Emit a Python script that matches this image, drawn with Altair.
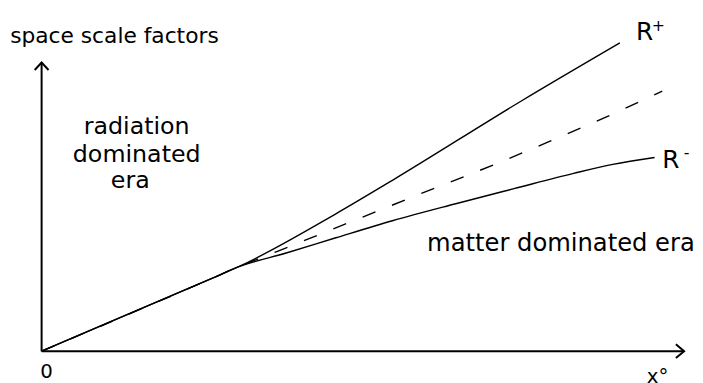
import altair as alt
import pandas as pd

# ---- curves (arbitrary units: x = time-like coordinate, y = scale factor) ----
rplus_x = [0, 2.66, 3.05, 4.58, 5.46, 7.46, 9.0]
rplus_y = [0, 2.53, 2.91, 4.76, 5.92, 8.66, 10.68]

flat_x = [0, 2.66, 3.05, 3.66, 4.32, 5.2, 6.12, 7.05, 7.97, 8.62, 9.66]
flat_y = [0, 2.53, 2.91, 3.45, 4.04, 4.83, 5.65, 6.47, 7.33, 7.95, 9.01]

rminus_x = [0, 2.66, 3.05, 3.82, 4.58, 5.46, 6.43, 7.35, 8.28, 8.89, 9.54]
rminus_y = [0, 2.53, 2.91, 3.41, 3.93, 4.52, 5.10, 5.63, 6.16, 6.47, 6.71]

# ---- axes (from origin to arrow tips) ----
axis_end_x = 10
axis_end_y = 10

# ---- annotation texts and anchors (data units) ----
title_text = ["space scale factors"]
title_x = [-0.49]
title_y = [10.68]

region_text = ["radiation", "dominated", "era"]
region_x = [1.48, 1.48, 1.38]
region_y = [7.53, 6.54, 5.65]

matter_text = ["matter dominated era"]
matter_x = [6.0]
matter_y = [3.46]

r_text = ["R", "R"]
r_x = [9.25, 9.66]
r_y = [10.79, 6.34]

sup_text = ["+", "-"]
sup_x = [9.6, 10.04]
sup_y = [11.1, 6.7]

tick_text = ["0", "x°"]
tick_x = [-0.02, 9.42]
tick_y = [-0.92, -1.10]

FONT = "DejaVu Sans"
sx = alt.Scale(domain=[0, 10], nice=False, zero=False)
sy = alt.Scale(domain=[0, 10], nice=False, zero=False)


def X():
    return alt.X("x:Q", scale=sx, axis=None)


def Y():
    return alt.Y("y:Q", scale=sy, axis=None)


def curve(xs, ys, dash=None):
    df = pd.DataFrame({"x": xs, "y": ys})
    kw = dict(color="black", strokeWidth=1.4, interpolate="monotone")
    if dash:
        kw["strokeDash"] = dash
    return alt.Chart(df).mark_line(**kw).encode(x=X(), y=Y(), order="x:Q")


def text_layer(texts, xs, ys, size, align="left"):
    df = pd.DataFrame({"t": texts, "x": xs, "y": ys})
    return alt.Chart(df).mark_text(
        font=FONT, fontSize=size, align=align, baseline="alphabetic", color="black"
    ).encode(x=X(), y=Y(), text="t:N")


axes_df = pd.DataFrame({"x": [0, 0], "y": [0, 0], "x2": [axis_end_x, 0], "y2": [0, axis_end_y]})
axes = alt.Chart(axes_df).mark_rule(color="black", strokeWidth=2).encode(
    x=X(), y=Y(), x2="x2:Q", y2="y2:Q"
)

arrow_up = alt.Chart(pd.DataFrame({"x": [0], "y": [axis_end_y]})).mark_point(
    shape="M-1,1.07L0,0L1,1.07", size=196, filled=False, stroke="black", strokeWidth=2, opacity=1
).encode(x=X(), y=Y())

arrow_right = alt.Chart(pd.DataFrame({"x": [axis_end_x], "y": [0]})).mark_point(
    shape="M-1.19,-1L0,0L-1.19,1", size=196, filled=False, stroke="black", strokeWidth=2, opacity=1
).encode(x=X(), y=Y())

chart = alt.layer(
    axes,
    arrow_up,
    arrow_right,
    curve(rplus_x, rplus_y),
    curve(flat_x, flat_y, dash=[14, 18]),
    curve(rminus_x, rminus_y),
    text_layer(title_text, title_x, title_y, 22),
    text_layer(region_text, region_x, region_y, 24, "center"),
    text_layer(matter_text, matter_x, matter_y, 24.5),
    text_layer(r_text, r_x, r_y, 25),
    text_layer(sup_text, sup_x, sup_y, 16, "center"),
    text_layer(tick_text, tick_x, tick_y, 20),
).properties(
    width=650,
    height=292,
    autosize=alt.AutoSizeParams(type="none"),
    padding={"left": 34, "top": 53, "right": 11, "bottom": 30},
    background="white",
).configure_view(stroke=None)

chart.save("out.html", embed_options={"renderer": "svg", "actions": False})
